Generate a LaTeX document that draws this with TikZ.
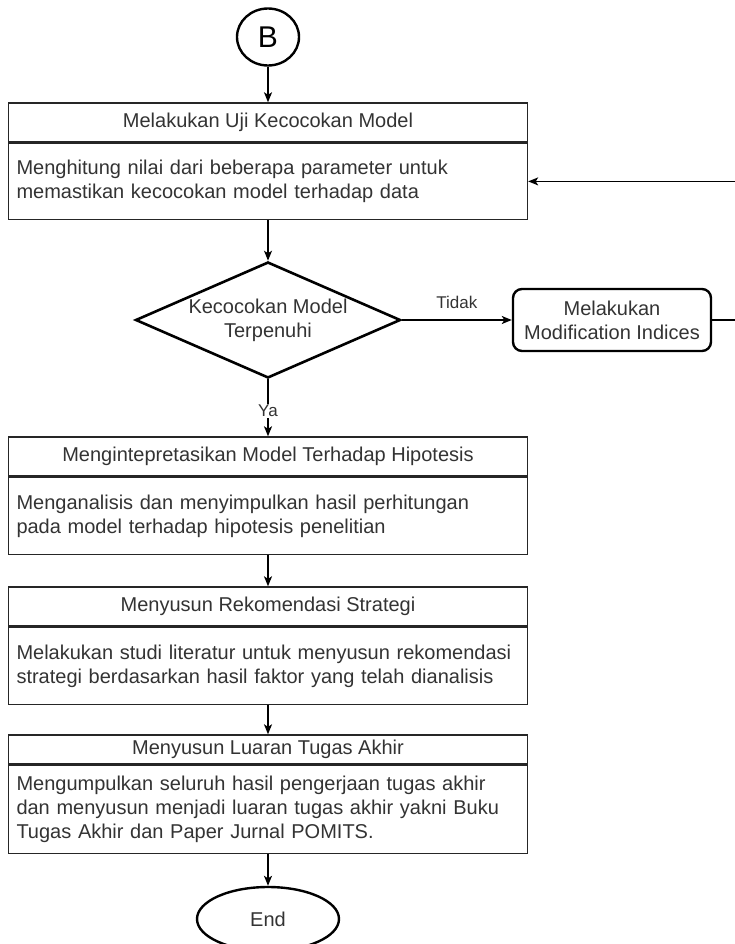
\documentclass[tikz,border=0pt]{standalone}
\usepackage{fontspec}
\setmainfont{Liberation Sans}
\usetikzlibrary{arrows.meta,shapes.geometric}

\begin{document}
\begin{tikzpicture}[x=1pt,y=-1pt,
  every node/.style={font=\fontsize{20}{24}\selectfont, text=black!80},
  titlebox/.style={draw=black!85, line width=1.4pt, rectangle, minimum width=519pt, minimum height=#1, inner sep=0pt},
  bodybox/.style={draw=black!85, line width=1.4pt, rectangle, minimum width=519pt, minimum height=#1, inner sep=0pt,
    align=left, text width=503pt},
  decision/.style={draw=black, line width=2.6pt, diamond, aspect=2.28, inner sep=0pt, minimum width=265pt, minimum height=116pt, align=center},
  process/.style={draw=black, line width=2.4pt, rectangle, rounded corners=9pt, minimum width=198pt, minimum height=62pt, inner sep=0pt, align=center},
  terminal/.style={draw=black, line width=2.4pt, ellipse, inner sep=0pt},
  flow/.style={draw=black, line width=1.3pt, -{Stealth[length=10pt,width=8pt,inset=2.5pt]}},
  lbl/.style={inner sep=1pt, font=\fontsize{17}{20}\selectfont}
]
\useasboundingbox (0,0) rectangle (734,944);

% connector symbol at the top
\node[terminal, minimum width=62pt, minimum height=57pt, font=\fontsize{30}{32}\selectfont, text=black] (B) at (268,37) {B};

% step 1
\node[titlebox=39pt] (t1) at (268,122.5) {Melakukan Uji Kecocokan Model};
\node[bodybox=76pt, anchor=north] (b1) at (t1.south) {Menghitung nilai dari beberapa parameter untuk\\memastikan kecocokan model terhadap data};

% decision
\node[decision] (d1) at (268,320) {Kecocokan Model\\Terpenuhi};
\node[process] (mod) at (612,320) {Melakukan\\Modification Indices};

% step 2
\node[titlebox=39pt] (t2) at (268,456.5) {Mengintepretasikan Model Terhadap Hipotesis};
\node[bodybox=77pt, anchor=north] (b2) at (t2.south) {Menganalisis dan menyimpulkan hasil perhitungan\\pada model terhadap hipotesis penelitian};

% step 3
\node[titlebox=39pt] (t3) at (268,606.5) {Menyusun Rekomendasi Strategi};
\node[bodybox=77pt, anchor=north] (b3) at (t3.south) {Melakukan studi literatur untuk menyusun rekomendasi\\strategi berdasarkan hasil faktor yang telah dianalisis};

% step 4
\node[titlebox=29pt] (t4) at (268,749.5) {Menyusun Luaran Tugas Akhir};
\node[bodybox=88pt, anchor=north] (b4) at (t4.south) {Mengumpulkan seluruh hasil pengerjaan tugas akhir\\dan menyusun menjadi luaran tugas akhir yakni Buku\\Tugas Akhir dan Paper Jurnal POMITS.};

% end terminal (runs past the lower edge)
\node[terminal, minimum width=142pt, minimum height=64pt] (end) at (268,919) {End};

% connectors
\draw[flow] (B) -- (t1);
\draw[flow] (b1) -- (d1);
\draw[flow] (d1.east) -- node[lbl, above=10pt] (tidak) {Tidak} (mod.west);
\draw[flow] (d1.south) -- node[lbl, fill=white, pos=0.55] (ya) {Ya} (t2.north);
\draw[flow] (mod.east) -- (752,320) |- (b1.east);
\draw[flow] (b2) -- (t3);
\draw[flow] (b3) -- (t4);
\draw[flow] (b4) -- (end);
\end{tikzpicture}
\end{document}
